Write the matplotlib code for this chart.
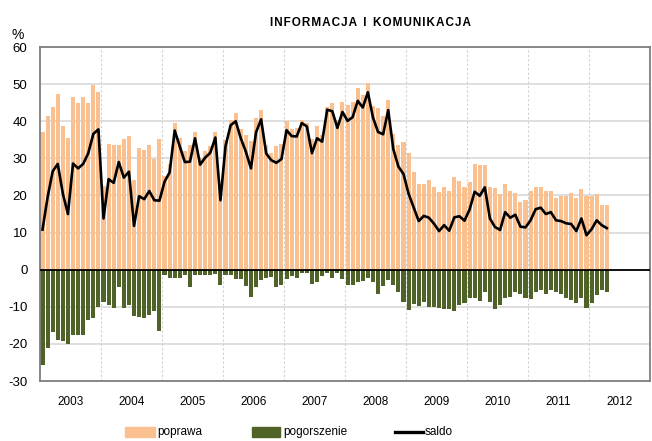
import numpy as np
import matplotlib.pyplot as plt
from matplotlib.patches import Rectangle
from matplotlib.lines import Line2D

plt.rcParams['font.family'] = ['Liberation Sans', 'DejaVu Sans']
plt.rcParams['axes.unicode_minus'] = False

# monthly survey balances, Jan 2003 - Apr 2012
poprawa = [
    37.0, 41.4, 43.8, 47.3, 38.8, 35.6, 46.4, 45.0, 46.4, 45.0, 49.8, 47.8,
    22.5, 34.0, 33.6, 33.6, 35.1, 36.0, 24.1, 32.7, 32.3, 33.6, 29.7, 35.1,
    25.2, 28.6, 39.5, 35.4, 32.0, 33.7, 37.0, 30.0, 32.0, 33.2, 37.0, 22.8,
    35.0, 40.4, 42.3, 37.8, 36.2, 34.8, 41.0, 43.0, 33.5, 31.5, 33.4, 34.0,
    40.0, 37.8, 38.2, 40.3, 39.6, 35.2, 38.6, 36.2, 43.9, 44.9, 40.3, 45.3,
    44.3, 45.3, 48.9, 47.0, 50.2, 44.2, 43.5, 41.3, 45.8, 36.5, 33.5, 34.5,
    31.5, 26.3, 23.2, 23.2, 24.3, 22.3, 20.8, 22.3, 21.2, 25.0, 24.0, 22.2,
    23.7, 28.6, 28.2, 28.2, 22.3, 21.9, 20.3, 23.2, 21.3, 20.6, 18.3, 18.9,
    21.3, 22.3, 22.3, 21.3, 21.3, 19.4, 19.9, 19.9, 20.7, 19.4, 21.8, 19.8,
    19.8, 20.3, 17.4, 17.4,
]
pogorszenie = [
    -25.6, -21.1, -16.8, -19.0, -19.2, -20.1, -17.5, -17.7, -17.7, -13.5, -13.0, -10.0,
    -8.7, -9.6, -10.4, -4.7, -10.4, -9.5, -12.4, -12.8, -13.0, -12.2, -11.0, -16.4,
    -1.5, -2.2, -2.2, -2.2, -1.5, -4.7, -1.5, -1.5, -1.5, -1.5, -1.2, -4.1,
    -1.5, -1.5, -2.4, -2.4, -4.3, -7.4, -4.7, -2.9, -2.2, -2.0, -4.6, -4.2,
    -2.4, -1.8, -2.3, -0.8, -1.0, -3.8, -3.2, -1.7, -0.8, -2.2, -0.8, -2.6,
    -4.1, -4.1, -3.4, -3.1, -2.3, -3.3, -6.5, -4.5, -2.8, -4.2, -6.0, -8.6,
    -10.9, -9.2, -9.9, -8.6, -10.1, -10.0, -10.4, -10.5, -10.6, -11.0, -9.6, -8.9,
    -7.6, -7.7, -8.5, -6.0, -8.6, -10.5, -9.6, -7.7, -7.4, -6.0, -6.5, -7.6,
    -8.0, -5.9, -5.6, -6.5, -5.6, -6.0, -6.5, -7.7, -8.3, -8.9, -7.7, -10.4,
    -8.9, -6.9, -5.4, -6.0,
]
saldo = [
    10.8, 19.5, 26.5, 28.5, 20.5, 15.0, 28.6, 27.3, 28.5, 31.4, 36.6, 37.8,
    13.8, 24.4, 23.4, 29.0, 24.8, 26.4, 11.8, 19.8, 19.0, 21.2, 18.7, 18.6,
    23.7, 26.2, 37.5, 33.2, 29.0, 29.1, 35.4, 28.3, 30.2, 31.5, 35.6, 18.7,
    33.3, 38.9, 40.0, 35.4, 31.8, 27.3, 37.0, 40.5, 31.3, 29.5, 28.8, 29.8,
    37.6, 36.0, 35.9, 39.5, 38.6, 31.4, 35.4, 34.5, 43.1, 42.7, 38.2, 42.5,
    40.1, 41.1, 45.5, 43.7, 47.8, 41.0, 37.1, 36.5, 43.0, 32.5, 27.8, 25.8,
    20.5, 16.8, 13.1, 14.5, 14.0, 12.4, 10.4, 12.0, 10.5, 14.1, 14.4, 13.2,
    16.2, 21.0, 19.9, 22.2, 13.8, 11.5, 10.7, 15.5, 14.0, 14.8, 11.6, 11.4,
    13.3, 16.3, 16.7, 15.0, 15.5, 13.3, 13.1, 12.5, 12.3, 10.4, 13.8, 9.3,
    10.9, 13.3, 12.0, 11.2,
]
years = list(range(2003, 2013))

col_pop = '#FAC090'
col_pog = '#4F6228'

months = np.arange(len(saldo))

fig = plt.figure(figsize=(6.52, 4.41), dpi=100)
ax = fig.add_axes([0.0613, 0.136, 0.9357, 0.7574])

# horizontal grid and year separators
for v in range(-30, 61, 10):
    ax.axhline(v, color='#d9d9d9', lw=1.2, zorder=0)
for k in range(1, len(years)):
    ax.axvline(12 * k - 0.5, color='#d0d0d0', lw=0.8, ls=(0, (2, 2)), zorder=0)

ax.bar(months, poprawa, width=0.8, color=col_pop, zorder=2)
ax.bar(months, pogorszenie, width=0.8, color=col_pog, zorder=2)
ax.axhline(0, color='black', lw=1.3, zorder=3)
ax.plot(months, saldo, color='black', lw=1.9, zorder=4)

ax.set_xlim(-0.5, 12 * len(years) - 0.5)
ax.set_ylim(-30, 60)
ax.set_yticks(range(-30, 61, 10))
ax.tick_params(axis='y', length=0, labelsize=9.5, pad=9)
ax.set_xticks([12 * k + 5.5 for k in range(len(years))])
ax.set_xticklabels([str(y) for y in years])
ax.tick_params(axis='x', length=0, labelsize=8.5, pad=11)
for s in ax.spines.values():
    s.set_color('#7f7f7f')
    s.set_linewidth(1.3)

fig.text(0.018, 0.921, '%', fontsize=10, va='center')
title = '  '.join('\u200a'.join(w) for w in ['INFORMACJA', 'I', 'KOMUNIKACJA'])
fig.text(0.568, 0.948, title, fontsize=8.5, fontweight='bold', ha='center', va='center')

# legend row drawn in figure coordinates
ly = 0.0204
fig.patches.append(Rectangle((0.1917, ly - 0.0105), 0.046, 0.021, color=col_pop,
                             transform=fig.transFigure, figure=fig))
fig.text(0.2408, ly, 'poprawa', fontsize=8.5, va='center')
fig.patches.append(Rectangle((0.3865, ly - 0.0105), 0.043, 0.021, color=col_pog,
                             transform=fig.transFigure, figure=fig))
fig.text(0.434, ly, 'pogorszenie', fontsize=8.5, va='center')
fig.lines.append(Line2D([0.6058, 0.6488], [ly, ly], color='black', lw=2.4,
                        transform=fig.transFigure, figure=fig))
fig.text(0.6518, ly, 'saldo', fontsize=8.5, va='center')

fig.savefig('out.png', dpi=100)
